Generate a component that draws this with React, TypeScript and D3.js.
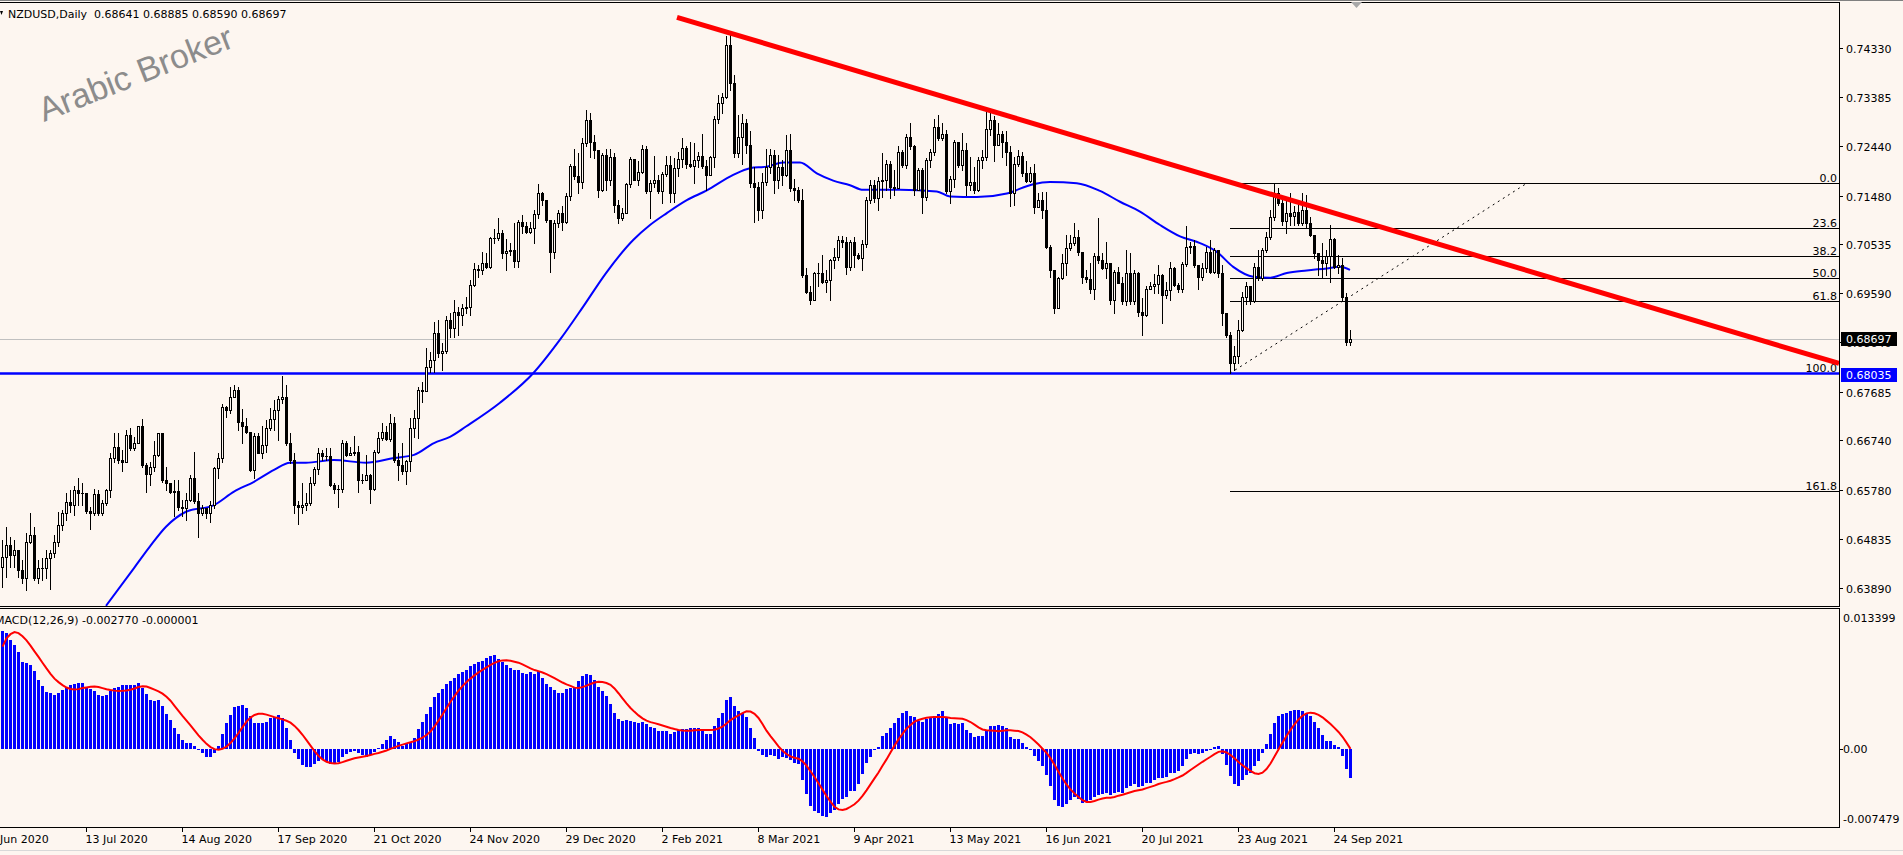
import React from 'react';
import * as d3 from 'd3';

// ---- data (prices in pips: value / 10000) ----
const firstOpen = 6430;
const closes = [
6449,6472,6452,6462,6423,6407,6478,6491,6407,6427,
6427,6446,6456,6478,6510,6533,6554,6549,6578,6572,
6572,6538,6534,6570,6533,6552,6578,6640,6662,6636,
6633,6685,6659,6669,6701,6627,6610,6623,6646,6688,
6598,6591,6575,6577,6546,6543,6559,6601,6556,6533,
6543,6533,6549,6620,6640,6738,6733,6758,6772,6710,
6701,6691,6617,6683,6650,6665,6699,6715,6733,6754,
6758,6669,6636,6549,6546,6549,6552,6591,6618,6649,
6644,6643,6588,6581,6581,6670,6646,6650,6652,6598,
6598,6607,6581,6652,6678,6691,6676,6707,6636,6627,
6614,6635,6699,6717,6772,6770,6817,6830,6881,6843,
6847,6907,6891,6922,6917,6930,6933,6975,7005,7004,
7018,7010,7065,7065,7075,7037,7041,7043,7022,7097,
7089,7078,7085,7112,7152,7139,7101,7039,7094,7115,
7097,7147,7205,7186,7175,7249,7294,7252,7236,7159,
7227,7178,7223,7130,7104,7115,7170,7218,7179,7194,
7238,7156,7172,7179,7156,7190,7207,7152,7201,7218,
7241,7210,7205,7217,7225,7205,7188,7222,7296,7327,
7339,7439,7365,7230,7262,7289,7246,7172,7165,7120,
7175,7204,7227,7178,7204,7188,7236,7162,7159,7139,
6994,6962,6946,6999,6998,6981,6985,7023,7030,7062,
7059,7010,7059,7033,7028,7054,7139,7168,7143,7177,
7179,7209,7165,7162,7233,7207,7261,7243,7159,7197,
7146,7216,7233,7281,7259,7268,7156,7181,7252,7207,
7236,7168,7175,7159,7217,7223,7276,7294,7246,7268,
7252,7233,7152,7209,7225,7191,7177,7191,7125,7139,
7120,7048,7004,6930,6988,7017,7046,7057,7068,7039,
6991,6986,6967,7031,7023,7007,7017,6946,7001,6979,
6943,6998,6943,6999,6923,6917,6968,6973,6976,6994,
6956,6965,7007,6975,6968,7016,7049,7050,7014,6990,
7007,7039,7001,7043,6998,6920,6878,6823,6837,6888,
6952,6972,6943,7010,6988,7043,7067,7107,7152,7133,
7098,7114,7108,7117,7094,7120,7094,7072,7036,7023,
7017,7031,7063,7010,7014,6952,6864.1,6869.7
];
const highs = [
6481,6507,6488,6481,6462,6443,6494,6533,6507,6443,
6446,6462,6462,6491,6536,6540,6572,6578,6585,6601,
6591,6572,6546,6581,6578,6559,6581,6649,6689,6688,
6656,6694,6698,6681,6702,6715,6630,6633,6672,6689,
6689,6623,6588,6598,6598,6559,6572,6607,6652,6572,
6549,6540,6556,6623,6649,6745,6740,6778,6781,6778,
6734,6717,6691,6688,6688,6701,6714,6736,6752,6760,
6798,6781,6688,6649,6556,6591,6572,6604,6623,6659,
6656,6659,6659,6591,6588,6675,6672,6662,6683,6663,
6610,6646,6610,6656,6691,6707,6701,6725,6719,6649,
6669,6636,6717,6733,6778,6788,6852,6846,6904,6907,
6862,6914,6920,6946,6933,6939,6952,6985,7017,7014,
7039,7036,7068,7083,7104,7081,7063,7057,7094,7101,
7110,7097,7097,7120,7170,7154,7117,7101,7101,7120,
7127,7152,7210,7239,7230,7259,7314,7307,7265,7233,
7231,7239,7239,7231,7139,7123,7173,7223,7218,7214,
7246,7244,7179,7225,7188,7194,7225,7225,7220,7233,
7259,7244,7252,7250,7233,7267,7217,7225,7301,7343,
7346,7456,7462,7381,7304,7306,7297,7272,7204,7175,
7191,7239,7239,7236,7227,7217,7265,7268,7181,7165,
7160,7007,6972,7001,7018,7033,7004,7026,7046,7070,
7070,7068,7062,7068,7036,7062,7146,7178,7179,7183,
7230,7217,7214,7197,7243,7236,7268,7288,7246,7201,
7201,7220,7239,7297,7304,7289,7275,7186,7256,7250,
7270,7249,7223,7204,7223,7236,7314,7312,7301,7288,
7272,7272,7243,7223,7236,7233,7214,7204,7209,7152,
7155,7155,7052,7004,6991,7035,7072,7072,7094,7081,
7039,7004,7017,7036,7104,7036,7059,7017,7004,7010,
6991,7043,7036,7004,7001,6949,6972,6981,6997,7014,
6997,6981,7020,7010,6978,7020,7089,7059,7062,7007,
7017,7049,7062,7046,7043,7014,6917,6883,6856,6907,
6962,6981,6972,7018,7043,7046,7078,7120,7172,7162,
7146,7139,7152,7127,7139,7152,7149,7107,7072,7031,
7056,7043,7091,7065,7033,7027,6959,6888.5
];
const lows = [
6391,6410,6430,6430,6410,6398,6385,6475,6404,6398,
6404,6407,6386,6449,6469,6501,6520,6536,6530,6549,
6549,6533,6502,6530,6530,6530,6549,6565,6633,6630,
6614,6640,6656,6656,6669,6623,6575,6588,6614,6643,
6594,6578,6572,6527,6540,6527,6520,6556,6552,6488,
6530,6523,6517,6543,6601,6633,6720,6727,6759,6694,
6669,6688,6614,6601,6649,6640,6652,6694,6694,6675,
6746,6665,6630,6533,6512,6533,6540,6549,6588,6610,
6636,6636,6585,6572,6546,6575,6643,6646,6646,6575,
6591,6601,6552,6578,6649,6675,6675,6672,6633,6598,
6610,6590,6614,6681,6678,6749,6785,6807,6807,6836,
6811,6843,6875,6875,6878,6898,6920,6917,6972,6991,
6997,7007,7007,7056,7062,7027,7004,7033,7010,7010,
7075,7075,7075,7056,7104,7130,7097,7001,7028,7088,
7081,7094,7139,7181,7152,7162,7243,7223,7220,7145,
7156,7159,7168,7117,7094,7101,7114,7165,7178,7168,
7191,7152,7104,7165,7152,7134,7185,7136,7136,7185,
7204,7201,7204,7173,7204,7201,7159,7191,7204,7288,
7307,7336,7352,7223,7223,7210,7230,7165,7097,7101,
7104,7168,7191,7152,7162,7168,7185,7156,7139,7136,
6991,6959,6939,6945,6972,6978,6962,6945,7007,7023,
7049,6996,7004,7010,7026,7004,7049,7134,7136,7120,
7145,7159,7143,7149,7186,7203,7201,7239,7149,7159,
7114,7139,7204,7226,7256,7256,7152,7133,7165,7204,
7197,7149,7159,7152,7156,7201,7217,7265,7214,7249,
7223,7207,7127,7130,7205,7185,7175,7175,7115,7126,
7104,7046,6991,6921,6933,6986,6994,7043,7052,7033,
6978,6981,6960,6947,7017,7005,6988,6939,6921,6978,
6939,6936,6939,6939,6914,6878,6914,6968,6959,6959,
6901,6949,6946,6972,6962,6962,7012,7036,7010,6968,
6985,7001,6998,6998,6991,6898,6875,6805,6810,6823,
6885,6939,6939,6941,6985,6985,7039,7063,7101,7130,
7091,7075,7091,7091,7091,7091,7085,7070,7027,6994,
6991,6994,6981,7007,6998,6943,6859,6859
];

// moving average samples [bar, pips]
const maPoints: [number, number][] = [
[26,6354],[33,6427],[37,6469],[41,6507],[46,6536],[53,6549],[58,6575],[63,6594],[68,6617],[72,6631],
[76,6631],[83,6636],[91,6631],[98,6640],[103,6646],[108,6669],[112,6681],[116,6701],[124.5,6747],[132.8,6804],
[139.5,6869],[145.3,6933],[151,6998],[157.8,7062],[162,7091],[166.2,7114],[171.2,7139],[176.2,7158],[182.8,7188],[187,7201],
[191.2,7204],[195.3,7212],[199.5,7212],[203.7,7191],[207.8,7177],[212,7168],[215.3,7159],[224.5,7159],[233.7,7156],[237,7146],
[243.7,7145],[251.2,7152],[257.8,7170],[262,7174],[268.7,7172],[274.5,7157],[279.5,7136],[284.5,7117],[289.5,7091],[294.5,7069],
[299.5,7056],[303.7,7039],[307.8,7010],[312.8,6991],[317,6989],[321.2,6998],[326.2,7003],[331.2,7007],[334.5,7010],[337,7004]
];

// MACD main line (units of 1e-4)
const macdMain = [
114,112,105,101,94,84,83,81,75,67,
61,55,54,52,54,57,60,62,63,64,
64,60,58,56,52,51,52,56,59,60,
62,62,62,62,64,59,53,47,46,47,
42,34,28,20,14.5,9,6,5.5,3,-1,
-4,-8,-8,-3.5,3,15,25,33,41,42,
42.5,40,32,25.5,25,25.5,26,30,31,33,
30,20,9,-3.5,-10,-15.5,-17,-17,-14,-12,
-10,-12,-14,-14.5,-13,-7.5,-5,-2.5,-1.6,-3.5,
-6,-7.5,-6,-2.5,0.6,5,9,12.5,9.5,7,
3,5,7,11,19,26,34,41,50,54,
58,63,66,69,72.5,74,76,80,82,84,
85,88,90,91,87,84,81,78,76,76,
73,72.5,74,72.5,75,69,63,60,57,54,
54,58,59,60,66,70.5,72.5,71.5,67,60,
56,51,44,34.5,28.7,27.4,28,27.4,26.4,25,
26,24,21,20,17.5,17.5,17,15,16,18.4,
19.3,19.3,20,20,20,17.7,15,15,22,29.6,
34.5,47.4,50,41.6,37,35,30.6,20,10.3,-1.6,
-5.8,-7.4,-5.8,-6.8,-10,-7.4,-9,-10.6,-13.2,-14.5,
-30,-43.5,-55,-59.6,-62.2,-64.8,-66,-62.2,-59,-53,
-48.7,-46,-40.3,-40.3,-33.8,-24.5,-13.9,-7.4,-0.3,1.6,
12.6,15.8,20,25.5,29.6,35,37,31.9,30.6,27.4,
26.4,28.7,30.6,31.9,33.8,37,30.6,24.2,25.5,24.2,
25.5,18.4,15.8,11.3,12.6,12.6,17.7,22,22,23,
22,20,11.3,9.3,9.3,5.5,2.3,-0.3,-6.8,-11.3,
-16.4,-25.1,-35.8,-49.3,-55,-55.8,-53,-49.3,-46,-48.7,
-52.5,-51,-49.3,-46,-44.5,-43.5,-42.9,-44.5,-42.9,-41.2,
-42.9,-38,-35.8,-33.8,-36.4,-35.8,-33.2,-32.5,-30,-28.4,
-28.4,-27.4,-23.5,-22.9,-20.9,-16.4,-10,-4.8,-4.2,-4.8,
-3.5,-1.6,-1,2.3,2.9,-4.8,-15.5,-26.1,-33.8,-35.8,
-30,-25.1,-22.9,-16.4,-11.3,-4.2,4.8,14.5,25.5,31.9,
33.8,34.5,37,37.7,37.7,37,35,31.9,26.4,20,
13.5,8,8,3.9,1.6,-6.8,-19.3,-27.7
];
const signalSeed = [99, 107, 111, 113, 112, 109, 105, 100];

const priceTicks = ['0.74330','0.73385','0.72440','0.71480','0.70535','0.69590','0.68640','0.67685','0.66740','0.65780','0.64835','0.63890'];
const macdTicks = ['0.013399','0.00','-0.007479'];
const dateLabels = ['9 Jun 2020','13 Jul 2020','14 Aug 2020','17 Sep 2020','21 Oct 2020','24 Nov 2020','29 Dec 2020','2 Feb 2021','8 Mar 2021','9 Apr 2021','13 May 2021','16 Jun 2021','20 Jul 2021','23 Aug 2021','24 Sep 2021'];
const dateBars = [-3,21,45,69,93,117,141,165,189,213,237,261,285,309,333];

const trendPoints: [number, number][] = [[168.75, 7493], [459.25, 6823]];
const fibLow: [number, number] = [307, 6804];
const fibHigh: [number, number] = [381.25, 7172];
const fibLevels = [0, 23.6, 38.2, 50, 61.8, 100, 161.8];
const supportLevel = 6803.5;
const lastPrice = 6869.7;
const headerText = 'NZDUSD,Daily  0.68641 0.68885 0.68590 0.68697';
const macdHeader = 'MACD(12,26,9) -0.002770 -0.000001';

// ---- layout ----
const W = 1903, H = 855;
const BG = '#FDF6F0';
const plotRight = 1839;
const mainTop = 3, mainBottom = 606;
const macdTop = 608.5, macdBottom = 827;
const FONT = 'DejaVu Sans, Verdana, sans-serif';

export default function App() {
  const n = closes.length;
  const x = d3.scaleLinear().domain([0, 337]).range([2, 1350]);
  const y = d3.scaleLinear().domain([0.6389, 0.7433]).range([587.7, 48.3]);
  const ym = d3.scaleLinear().domain([-0.007479, 0.013399]).range([826.4, 610.4]);
  const p = (v: number) => v / 10000;

  const candles = closes.map((c, i) => {
    const o = i === 0 ? firstOpen : closes[i - 1];
    const h = Math.max(highs[i], o, c);
    const l = Math.min(lows[i], o, c);
    return { i, o, c, h, l };
  });

  const signal = macdMain.map((v, i) => {
    if (i < 8) return signalSeed[i];
    let s = 0;
    for (let k = i - 8; k <= i; k++) s += macdMain[k];
    return s / 9;
  });

  const maLine = d3.line<[number, number]>()
    .x(d => x(d[0])).y(d => y(p(d[1]))).curve(d3.curveMonotoneX)(maPoints) || '';
  const sigLine = d3.line<number>()
    .x((_, i) => x(i) + 0.5).y(d => ym(d / 10000)).curve(d3.curveLinear)(signal) || '';

  const fibRange = fibHigh[1] - fibLow[1];
  const fibX0 = x(fibLow[0]);

  return (
    <svg width={W} height={H} style={{ position: 'absolute', left: 0, top: 0, background: BG }}
      fontFamily={FONT}>
      <defs>
        <clipPath id="mainClip"><rect x={0} y={mainTop} width={plotRight} height={mainBottom - mainTop} /></clipPath>
        <clipPath id="macdClip"><rect x={0} y={macdTop} width={plotRight} height={macdBottom - macdTop} /></clipPath>
      </defs>
      <rect x={0} y={0} width={W} height={H} fill={BG} />

      {/* watermark */}
      <text x={44} y={122} transform="rotate(-21.5 44 122)" fontFamily="Liberation Sans, Arial, sans-serif"
        fontSize={34} fill="#8C8C8C">Arabic Broker</text>

      <g clipPath="url(#mainClip)">
        {/* current price line */}
        <line x1={0} x2={plotRight} y1={Math.round(y(p(lastPrice))) + 0.5} y2={Math.round(y(p(lastPrice))) + 0.5}
          stroke="#C0C0C0" strokeWidth={1} shapeRendering="crispEdges" />
        {/* fib lines */}
        {fibLevels.map(lv => {
          const yy = Math.round(y(p(fibHigh[1] - fibRange * lv / 100))) + 0.5;
          return (
            <g key={lv}>
              <line x1={fibX0} x2={plotRight} y1={yy} y2={yy} stroke="#000" strokeWidth={1} shapeRendering="crispEdges" />
              <text x={plotRight - 2} y={yy - 2} textAnchor="end" fontSize={11} fill="#000">{lv.toFixed(1)}</text>
            </g>
          );
        })}
        <line x1={x(fibLow[0])} y1={y(p(fibLow[1]))} x2={x(fibHigh[0])} y2={y(p(fibHigh[1]))}
          stroke="#000" strokeWidth={1} strokeDasharray="2,4" />
        {/* support line */}
        <line x1={0} x2={plotRight} y1={y(p(supportLevel))} y2={y(p(supportLevel))} stroke="#0000FF" strokeWidth={2.5} />
        {/* MA */}
        <path d={maLine} fill="none" stroke="#0000FF" strokeWidth={2} />
        {/* candles */}
        {candles.map(d => {
          const cx = Math.round(x(d.i));
          const top = Math.round(y(p(Math.max(d.o, d.c))));
          const bot = Math.round(y(p(Math.min(d.o, d.c))));
          const bull = d.c >= d.o;
          return (
            <g key={d.i} shapeRendering="crispEdges">
              <line x1={cx + 0.5} x2={cx + 0.5} y1={Math.round(y(p(d.h)))} y2={Math.round(y(p(d.l))) + 1} stroke="#000" strokeWidth={1} />
              {bot - top >= 1 ? (
                <rect x={cx - 0.5} y={top + 0.5} width={2} height={bot - top} fill={bull ? BG : '#000'} stroke="#000" strokeWidth={1} />
              ) : (
                <line x1={cx - 1} x2={cx + 2} y1={top + 0.5} y2={top + 0.5} stroke="#000" strokeWidth={1} />
              )}
            </g>
          );
        })}
        {/* trendline */}
        <line x1={x(trendPoints[0][0])} y1={y(p(trendPoints[0][1]))} x2={x(trendPoints[1][0])} y2={y(p(trendPoints[1][1]))}
          stroke="#FF0000" strokeWidth={5} />
      </g>

      {/* MACD */}
      <g clipPath="url(#macdClip)">
        {macdMain.map((v, i) => {
          const cx = Math.round(x(i));
          const y0 = Math.round(ym(0));
          const y1 = Math.round(ym(v / 10000));
          return <rect key={i} x={cx - 1} y={Math.min(y0, y1)} width={3} height={Math.max(1, Math.abs(y1 - y0))}
            fill="#0000FF" shapeRendering="crispEdges" />;
        })}
        <path d={sigLine} fill="none" stroke="#FF0000" strokeWidth={2} />
      </g>

      {/* frames */}
      <g shapeRendering="crispEdges" stroke="#000" strokeWidth={1}>
        <line x1={0} x2={W} y1={0.5} y2={0.5} stroke="#808080" />
        <line x1={0} x2={plotRight} y1={2.5} y2={2.5} />
        <line x1={0} x2={plotRight} y1={606.5} y2={606.5} />
        <line x1={0} x2={plotRight} y1={608.5} y2={608.5} />
        <line x1={0} x2={plotRight + 1} y1={827.5} y2={827.5} />
        <line x1={plotRight + 0.5} x2={plotRight + 0.5} y1={2} y2={607} />
        <line x1={plotRight + 0.5} x2={plotRight + 0.5} y1={608} y2={828} />
      </g>
      <line x1={0} x2={W} y1={850.5} y2={850.5} stroke="#D9D9D9" shapeRendering="crispEdges" />
      <polygon points="1351,2 1362,2 1356.5,8" fill="#A8A8A8" />

      {/* header texts */}
      <polygon points="0,11 3,11 1.5,15" fill="#000" />
      <text x={8} y={18} fontSize={11} fill="#000" style={{ whiteSpace: 'pre' }} xmlSpace="preserve">{headerText}</text>
      <text x={-5} y={624} fontSize={11} fill="#000">{macdHeader}</text>

      {/* price axis */}
      {priceTicks.map(t => {
        const yy = Math.round(y(+t)) + 0.5;
        return (
          <g key={t}>
            <line x1={plotRight} x2={plotRight + 4} y1={yy} y2={yy} stroke="#000" shapeRendering="crispEdges" />
            <text x={1846} y={yy + 4} fontSize={11} fill="#000">{t}</text>
          </g>
        );
      })}
      {/* last price & support labels */}
      <rect x={1841} y={Math.round(y(p(lastPrice))) - 7} width={56} height={14} fill="#000" />
      <text x={1846} y={Math.round(y(p(lastPrice))) + 4} fontSize={11} fill="#fff">{(lastPrice / 10000).toFixed(5)}</text>
      <rect x={1841} y={Math.round(y(p(supportLevel))) - 6} width={56} height={14} fill="#0000FF" />
      <text x={1846} y={Math.round(y(p(supportLevel))) + 5} fontSize={11} fill="#fff">{(supportLevel / 10000).toFixed(5)}</text>

      {/* MACD axis */}
      <text x={1843} y={622} fontSize={11} fill="#000">{macdTicks[0]}</text>
      <line x1={plotRight} x2={plotRight + 4} y1={Math.round(ym(0)) + 0.5} y2={Math.round(ym(0)) + 0.5} stroke="#000" shapeRendering="crispEdges" />
      <text x={1843} y={Math.round(ym(0)) + 4} fontSize={11} fill="#000">{macdTicks[1]}</text>
      <text x={1843} y={823} fontSize={11} fill="#000">{macdTicks[2]}</text>

      {/* date axis */}
      {dateBars.map((b, k) => {
        const xx = Math.round(x(b)) + 0.5;
        return (
          <g key={k}>
            <line x1={xx} x2={xx} y1={828} y2={832} stroke="#000" shapeRendering="crispEdges" />
            <text x={xx - 1} y={843} fontSize={11} fill="#000">{dateLabels[k]}</text>
          </g>
        );
      })}
    </svg>
  );
}
